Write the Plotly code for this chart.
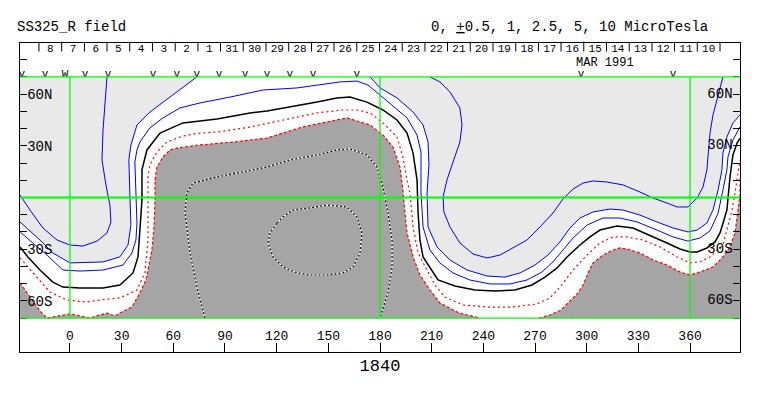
import plotly.graph_objects as go

FONT = "Liberation Mono, Courier New, monospace"

# ---- axis extents / ticks ----
LON_MIN, LON_MAX = -29.0, 389.0
LAT_MIN, LAT_MAX = -89.7, 89.7
LON_TICKS = [0, 30, 60, 90, 120, 150, 180, 210, 240, 270, 300, 330, 360]
LAT_TICKS = [-80, -70, -60, -50, -40, -30, -20, -10, 0, 10, 20, 30, 40, 50, 60, 70, 80]
LAT_LABEL_VALS = [60, 30, -30, -60]
LAT_LABEL_TEXT = ["60N", "30N", "30S", "60S"]

# ---- reference grid (green) ----
GREEN_LON = [0, 180, 360]
GREEN_LAT = [-70, 0, 70]

# ---- day ticks along the top (MAR 1991) ----
DAY_LABELS = ["8", "7", "6", "5", "4", "3", "2", "1", "31", "30", "29", "28", "27", "26", "25",
              "24", "23", "22", "21", "20", "19", "18", "17", "16", "15", "14", "13", "12", "11", "10"]
DAY_SEP_LON = [-18.0, -4.8, 8.4, 21.5, 34.7, 47.9, 61.1, 74.3, 87.4, 100.6, 113.8, 127.0, 140.2,
               153.3, 166.5, 179.7, 192.9, 206.1, 219.2, 232.4, 245.6, 258.8, 272.0, 285.1,
               298.3, 311.5, 324.7, 337.9, 351.0, 364.2, 377.4]
DAY_LAT = 85.9
DAY_SEP_LAT = 87.6
PASS_LON = [-27.9, -14.5, -2.9, 8.7, 22.1, 48.2, 62.1, 73.7, 86.5, 101.6, 114.4, 127.7, 141.1,
            166.6, 296.7, 350.1]
PASS_MARK = ["v", "v", "W", "v", "v", "v", "v", "v", "v", "v", "v", "v", "v", "v", "v", "v"]
PASS_LAT = 71.3

# ---- contour lines (lon, lat) ----
C0_LON = [-29.0, -24.4, -17.4, -9.9, -4.1, 5.8, 19.2, 29.0, 36.6, 39.5, 40.6, 41.8, 41.8, 44.7,
          52.3, 65.6, 85.4, 104.5, 114.4, 127.7, 143.4, 155.0, 162.6, 172.4, 181.7, 189.9, 195.7,
          199.2, 201.5, 202.1, 203.2, 205.0, 209.0, 213.7, 223.5, 235.1, 246.8, 258.4, 268.2,
          275.8, 282.8, 288.6, 296.1, 301.9, 307.7, 317.6, 326.9, 336.7, 346.6, 354.2, 360.0,
          364.1, 369.8, 374.5, 377.4, 381.4, 383.2, 384.9, 387.3, 389.0]
C0_LAT = [-28.7, -34.5, -42.1, -49.1, -52.0, -52.5, -52.5, -50.8, -43.8, -34.5, -18.9, -1.5, 16.0,
          27.6, 37.4, 43.3, 45.6, 49.1, 50.2, 52.5, 55.4, 57.8, 58.3, 55.4, 50.8, 45.0, 37.4, 25.8,
          10.2, -9.0, -24.7, -34.5, -40.4, -47.9, -51.4, -53.7, -54.3, -53.7, -50.8, -46.2, -40.9,
          -34.5, -27.6, -22.9, -18.9, -16.5, -17.7, -21.8, -26.4, -29.9, -31.6, -31.6, -29.3,
          -25.8, -20.6, -7.3, 11.9, 24.7, 31.6, 34.5]

P05_LON = [-29.0, -13.4, -4.1, 5.8, 19.2, 30.8, 36.0, 38.3, 38.9, 38.3, 37.7, 38.9, 40.6, 46.4,
           54.0, 63.9, 75.5, 92.9, 112.1, 131.8, 145.2, 156.8, 166.6, 173.0, 180.0, 187.5, 195.7,
           201.5, 203.8, 203.8, 205.0, 209.0, 214.8, 222.4, 232.2, 243.9, 255.5, 265.3, 274.0,
           280.4, 286.2, 292.1, 300.2, 309.5, 319.3, 329.2, 340.8, 350.1, 358.8, 365.8, 371.6,
           376.3, 379.1, 381.4, 382.0, 384.9, 389.0]
P05_LAT = [-20.0, -33.4, -42.1, -42.7, -42.1, -39.2, -32.2, -24.7, -14.8, 1.5, 20.6, 27.6, 32.2,
           40.4, 46.2, 52.0, 54.9, 58.3, 62.4, 63.6, 65.3, 67.1, 67.6, 65.3, 59.5, 53.1, 46.2, 36.3,
           26.4, 2.6, -17.1, -30.5, -38.0, -43.8, -47.9, -50.2, -50.2, -47.9, -43.3, -37.4, -30.5,
           -23.5, -16.0, -11.9, -11.9, -14.2, -18.9, -22.9, -25.3, -23.5, -19.4, -9.0, 4.4, 16.0,
           23.5, 33.4, 41.0]

P1A_LON = [-29.0, -17.4, -9.9, 0.0, 19.2, 29.0, 33.7, 35.4, 34.8, 34.2, 35.4, 38.9, 46.4, 54.0,
           62.1, 69.7, 73.7]
P1A_LAT = [-14.2, -24.7, -32.2, -38.0, -37.4, -34.5, -27.6, -16.0, 1.5, 21.8, 30.5, 42.1, 49.6,
           55.4, 61.3, 67.1, 70.0]
P1B_LON = [174.2, 180.0, 189.9, 199.2, 205.0, 207.9, 208.4, 207.3, 207.9, 213.1, 220.6, 230.5,
           242.1, 252.6, 261.3, 270.0, 277.5, 284.5, 290.3, 296.1, 303.7, 313.5, 321.1, 330.9,
           340.8, 350.1, 358.8, 364.1, 369.8, 373.3, 376.3, 378.5, 379.1, 381.4, 384.9, 389.0]
P1B_LAT = [70.0, 63.6, 57.8, 49.6, 42.1, 32.2, 18.9, 2.6, -17.1, -28.7, -36.3, -42.1, -45.6,
           -46.2, -43.8, -39.2, -33.4, -25.8, -17.7, -11.9, -8.4, -6.7, -7.3, -10.2, -14.2, -17.7,
           -20.0, -18.9, -14.8, -7.3, 4.4, 16.0, 25.8, 35.1, 43.3, 47.9]

P25A_LON = [21.5, 20.3, 19.2, 18.6, 20.9, 23.2, 23.8, 21.5, 15.7, 7.5, 0.0, -7.5, -15.7, -23.2, -29.0]
P25A_LAT = [70.0, 52.0, 39.2, 21.8, 7.3, -4.4, -14.2, -20.6, -25.3, -28.2, -27.6, -24.7, -17.7,
            -7.3, 1.5]
P25B_LON = [209.0, 214.8, 220.6, 226.4, 227.6, 226.4, 222.4, 218.9, 216.6, 217.1, 220.6, 226.4,
            234.0, 242.1, 249.7, 257.2, 265.3, 272.9, 280.4, 286.2, 292.1, 297.9, 303.7, 311.8,
            321.1, 330.9, 338.5, 346.6, 352.4, 358.8, 364.1, 367.5, 369.8, 370.4, 371.6, 373.3,
            375.7, 378.0, 379.1]
P25B_LAT = [70.0, 67.1, 61.3, 52.0, 42.1, 32.2, 20.6, 10.2, 0.3, -8.4, -17.1, -26.4, -32.8, -35.1,
            -33.4, -29.3, -24.7, -17.1, -9.0, -0.9, 4.9, 8.4, 9.6, 9.0, 7.3, 3.2, -0.3, -3.2, -5.5,
            -5.5, -0.3, 6.1, 16.0, 23.5, 37.4, 47.9, 56.6, 65.3, 70.0]

M05_LON = [-29.0, -19.2, -11.6, -1.7, 9.9, 17.4, 29.0, 38.9, 43.5, 45.3, 45.3, 45.3, 46.4, 50.5,
           56.3, 65.6, 75.5, 85.4, 104.5, 123.7, 143.4, 158.5, 166.6, 174.2, 181.7, 189.9, 193.3,
           195.7, 197.4, 199.2, 202.1, 207.3, 211.9, 217.7, 228.2, 242.7, 256.6, 271.2, 278.7,
           284.5, 292.1, 300.2, 307.7, 315.3, 323.4, 332.7, 342.6, 352.4, 360.0, 365.8, 371.6,
           379.1, 382.0, 384.4, 386.1, 387.8, 389.0]
M05_LAT = [-35.1, -46.2, -54.9, -59.5, -60.7, -59.5, -58.3, -53.7, -43.8, -24.7, -1.5, 11.9, 18.9,
           26.4, 32.2, 35.7, 37.4, 38.0, 40.9, 45.0, 49.1, 50.8, 50.8, 49.1, 43.3, 35.1, 23.5, 10.2,
           2.6, -17.1, -32.2, -42.1, -50.8, -57.8, -62.4, -63.6, -63.6, -61.8, -58.3, -52.0, -42.1,
           -33.4, -26.4, -22.9, -22.9, -24.7, -28.7, -34.5, -38.0, -37.4, -34.5, -27.6, -17.1, -7.3,
           2.6, 13.1, 21.8]

M1A_LON = [-29.0, -23.2, -17.4, -13.4, -5.8, 0.0, 5.8, 11.6, 17.4, 21.5, 26.1, 29.0, 36.0, 40.6,
           44.1, 46.4, 47.6, 48.8, 49.4, 49.4, 50.5, 54.0, 58.1, 62.1, 75.5, 94.6, 114.4, 123.7,
           135.3, 149.2, 160.8, 166.6, 174.2, 181.7, 187.5, 191.6, 193.3, 194.5, 195.7, 199.2,
           203.2, 209.0, 214.8, 225.9, 238.0]
M1A_LAT = [-49.6, -57.8, -65.9, -70.0, -68.8, -67.6, -68.8, -70.0, -68.2, -67.1, -68.8, -67.1,
           -63.6, -55.4, -47.9, -37.4, -30.5, -17.1, -1.5, 10.2, 17.7, 23.5, 27.6, 28.7, 30.5, 32.2,
           34.5, 37.4, 41.0, 43.8, 46.2, 44.4, 42.1, 36.3, 29.3, 17.7, 4.4, -9.0, -20.6, -34.5,
           -45.0, -53.7, -61.3, -67.1, -70.0]
M1B_LON = [272.3, 278.7, 285.1, 290.9, 295.0, 297.9, 300.8, 303.7, 309.5, 315.3, 319.3, 323.4,
           330.9, 338.5, 346.6, 354.2, 360.0, 365.8, 373.3, 379.1, 383.2, 386.1, 387.8, 389.0, 389.0]
M1B_LAT = [-70.0, -68.2, -65.3, -59.5, -55.4, -50.8, -43.8, -38.0, -33.4, -30.5, -29.3, -29.9,
           -32.2, -36.3, -39.2, -43.3, -45.0, -43.3, -40.4, -34.5, -28.7, -20.6, -8.4, 1.5, 11.3]

M25_LON = [78.4, 73.7, 69.7, 66.8, 67.9, 71.4, 85.4, 100.4, 114.4, 127.7, 143.4, 155.0, 162.6,
           172.4, 178.2, 181.7, 184.6, 187.0, 187.0, 184.6, 180.0]
M25_LAT = [-70.0, -52.0, -32.2, -9.0, 2.6, 8.4, 11.9, 14.8, 17.7, 21.8, 24.7, 27.6, 28.2, 24.7,
           17.7, 6.1, -9.0, -24.7, -40.4, -55.4, -70.0]
M5_LON = [120.2, 123.7, 129.5, 139.3, 149.2, 160.8, 166.6, 169.5, 168.4, 164.3, 158.5, 149.2,
          139.3, 131.8, 123.7, 117.9, 115.0, 116.1, 120.2]
M5_LAT = [-14.8, -11.3, -7.3, -6.1, -4.4, -5.5, -11.3, -20.6, -32.2, -40.4, -43.8, -45.0, -45.0,
          -43.8, -40.4, -34.5, -26.4, -20.6, -14.8]

LIGHT = "#e9e9e9"
DARK = "#a5a5a5"
BLUE = "#0000ff"
RED = "#ff0000"
GREEN = "#00ff00"

fig = go.Figure()


def add_line(lon, lat, color, width=1.0, dash="solid"):
    fig.add_trace(go.Scatter(x=lon, y=lat, mode="lines", hoverinfo="skip",
                             line=dict(color=color, width=width, dash=dash)))


def add_fill(lon, lat, color):
    fig.add_trace(go.Scatter(x=lon, y=lat, mode="lines", fill="toself", fillcolor=color,
                             hoverinfo="skip", line=dict(width=0, color=color)))


# light grey: field above the 1 uT contour
add_fill(P1A_LON + [LON_MIN], P1A_LAT + [GREEN_LAT[-1]], LIGHT)
add_fill(P1B_LON + [LON_MAX], P1B_LAT + [GREEN_LAT[-1]], LIGHT)
# dark grey: field below -1 uT
add_fill(M1A_LON + [LON_MIN], M1A_LAT + [GREEN_LAT[0]], DARK)
add_fill(M1B_LON + [LON_MAX], M1B_LAT + [GREEN_LAT[0]], DARK)

# contours
add_line(P25A_LON, P25A_LAT, BLUE)
add_line(P25B_LON, P25B_LAT, BLUE)
add_line(P1A_LON, P1A_LAT, BLUE)
add_line(P1B_LON, P1B_LAT, BLUE)
add_line(P05_LON, P05_LAT, BLUE)
add_line(C0_LON, C0_LAT, "black", 1.5)
add_line(M05_LON, M05_LAT, RED, 1.2, "2px,3px")
add_line(M1A_LON, M1A_LAT, RED, 1.2, "3px,2px")
add_line(M1B_LON, M1B_LAT, RED, 1.2, "3px,2px")
for lo, la in [(M25_LON, M25_LAT), (M5_LON, M5_LAT)]:
    add_line(lo, la, "white", 1.2)
    add_line(lo, la, "black", 1.2, "2px,2px")

# pass markers
fig.add_trace(go.Scatter(x=PASS_LON, y=[PASS_LAT] * len(PASS_LON), mode="text", text=PASS_MARK,
                         textfont=dict(family=FONT, size=11, color="black"),
                         textposition="middle center", hoverinfo="skip"))

# day separators and labels along the top
fig.add_trace(go.Scatter(x=DAY_SEP_LON, y=[DAY_SEP_LAT] * len(DAY_SEP_LON), mode="markers",
                         marker=dict(symbol="line-ns", size=7, line=dict(width=1, color="black")),
                         hoverinfo="skip", cliponaxis=False))
day_mid = [(a + b) / 2 for a, b in zip(DAY_SEP_LON[:-1], DAY_SEP_LON[1:])]
fig.add_trace(go.Scatter(x=day_mid, y=[DAY_LAT] * len(day_mid), mode="text", text=DAY_LABELS,
                         textfont=dict(family=FONT, size=11, color="black"),
                         textposition="middle center", hoverinfo="skip", cliponaxis=False))

# latitude labels on the right side, inside the frame
fig.add_trace(go.Scatter(x=[LON_MAX - 4.3] * len(LAT_LABEL_VALS), y=LAT_LABEL_VALS, mode="text",
                         text=LAT_LABEL_TEXT, textposition="middle left",
                         textfont=dict(family=FONT, size=14, color="black"),
                         hoverinfo="skip", cliponaxis=False))

# green reference lines, drawn as shapes on top of the traces
shapes = []
for lo in GREEN_LON:
    shapes.append(dict(type="line", xref="x", yref="y", x0=lo, x1=lo,
                       y0=GREEN_LAT[0], y1=GREEN_LAT[-1], layer="above",
                       line=dict(color=GREEN, width=1.3)))
for la in GREEN_LAT:
    shapes.append(dict(type="line", xref="x", yref="y", x0=LON_MIN, x1=LON_MAX,
                       y0=la, y1=la, layer="above",
                       line=dict(color=GREEN, width=2 if la == 0 else 1.3)))

lat_text = [dict(zip(LAT_LABEL_VALS, LAT_LABEL_TEXT)).get(v, "") for v in LAT_TICKS]

# the page body has an 8px margin, so the figure is 8px smaller than the window
fig.update_layout(
    width=755, height=388,
    margin=dict(l=12, r=23, t=35, b=44),
    paper_bgcolor="white", plot_bgcolor="white",
    showlegend=False,
    font=dict(family=FONT, size=13, color="black"),
    shapes=shapes,
    xaxis=dict(range=[LON_MIN, LON_MAX], tickvals=LON_TICKS, ticks="inside", ticklen=9,
               tickcolor="black", ticklabelposition="inside", showline=True, mirror=True,
               linecolor="black", linewidth=1, tickfont=dict(family=FONT, size=13, color="black"),
               title=dict(text="1840", font=dict(family=FONT, size=17, color="black"), standoff=16),
               showgrid=False, zeroline=False, fixedrange=True),
    yaxis=dict(range=[LAT_MIN, LAT_MAX], tickvals=LAT_TICKS, ticktext=lat_text, ticks="inside",
               ticklen=7, tickcolor="black", ticklabelposition="inside", showline=True,
               mirror="allticks", linecolor="black", linewidth=1,
               tickfont=dict(family=FONT, size=14, color="black"),
               showgrid=False, zeroline=False, fixedrange=True),
    annotations=[
        dict(xref="paper", yref="paper", x=-0.007, y=1.052, xanchor="left", yanchor="middle",
             text="SS325_R field", showarrow=False, font=dict(family=FONT, size=14, color="black")),
        dict(xref="paper", yref="paper", x=0.958, y=1.052, xanchor="right", yanchor="middle",
             text="0, <u>+</u>0.5, 1, 2.5, 5, 10 MicroTesla", showarrow=False,
             font=dict(family=FONT, size=14, color="black")),
        dict(xref="x", yref="y", x=310.6, y=78.3, text="MAR 1991", showarrow=False,
             font=dict(family=FONT, size=12, color="black")),
        dict(xref="x", yref="y", x=-31.4, y=-6.1, text=">", showarrow=False,
             font=dict(family=FONT, size=9, color=GREEN)),
    ],
)

fig.write_html("out.html")
